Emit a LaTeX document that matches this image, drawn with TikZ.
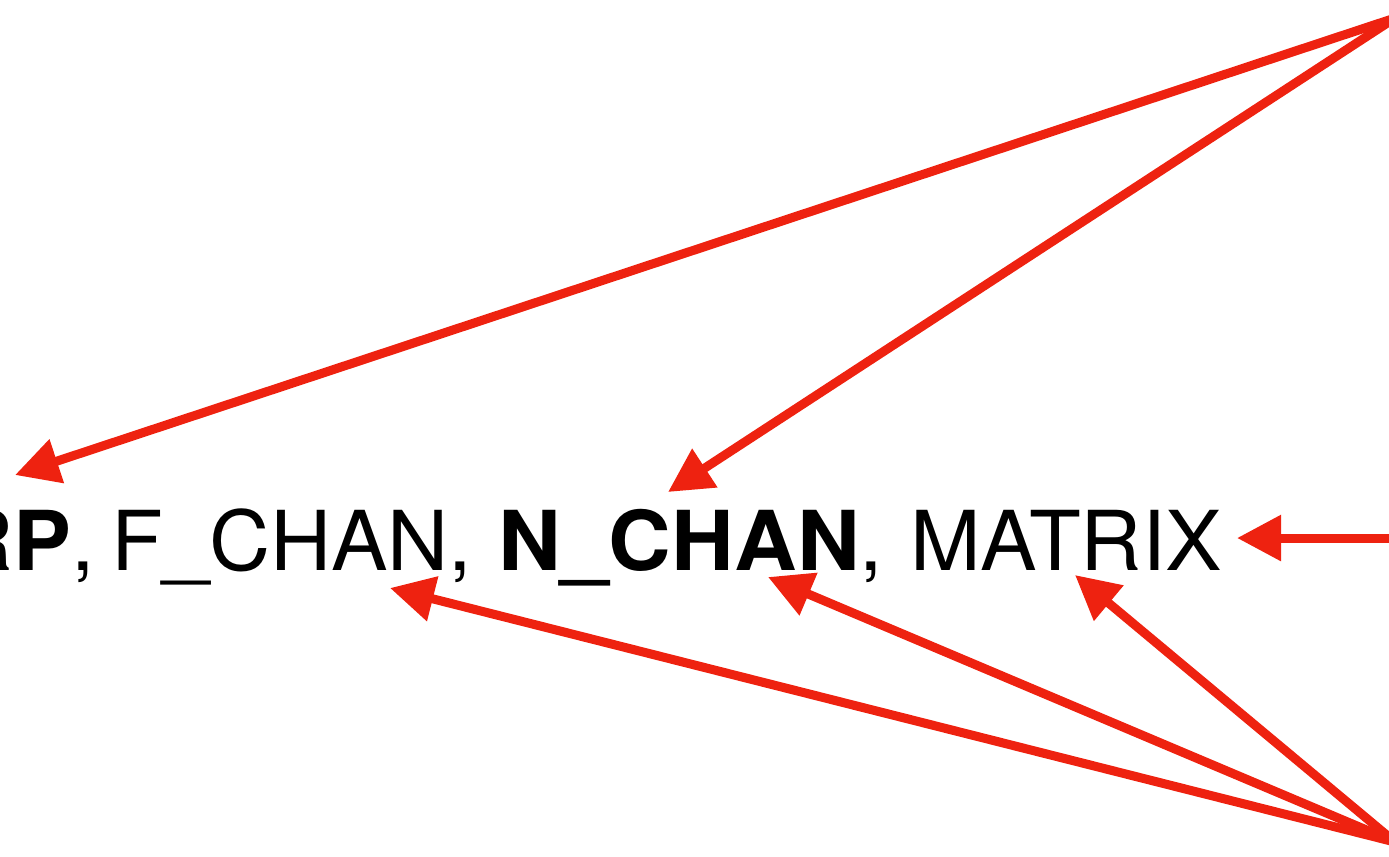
\documentclass[tikz,border=0pt]{standalone}
\usepackage{fontspec}
\setmainfont{TeX Gyre Heros}[FakeStretch=1.025, BoldFeatures={FakeStretch=1.05}]
\usepackage{xcolor}
\usetikzlibrary{arrows.meta, positioning}
\definecolor{flecha}{RGB}{238,34,16}
\tikzstyle{term} = [inner sep=0pt, outer sep=0pt, anchor=base west,
font=\fontsize{23.5}{28}\selectfont]
\tikzstyle{ptr} = [draw=flecha, line width=0.09cm,
-{Triangle[length=0.44cm, width=0.44cm]}, flecha]

\begin{document}
\begin{tikzpicture}[x=0.01cm, y=-0.01cm]
        \clip (0,0) rectangle (1389,856);

        % --- Nodos ---
        \node (rp) [term] at (-49,570) {\textbf{RP},};
        \node (fchan) [term] at (111,570) {F\_CHAN,};
        \node (nchan) [term] at (498,570) {\textbf{N\_CHAN},};
        \node (matrix) [term] at (910,570) {MATRIX};

        \coordinate (arriba) at (1395,18);
        \coordinate (medio) at (1395,538);
        \coordinate (abajo) at (1395,842);

        % --- Flechas ---
        \draw [ptr] (arriba) -- ([shift={(64,-95)}]rp.base west);
        \draw [ptr] (arriba) -- ([shift={(170,-78)}]nchan.base west);
        \draw [ptr] (medio) -- ([shift={(327,-32)}]matrix.base west);
        \draw [ptr] (abajo) -- ([shift={(279,18)}]fchan.base west);
        \draw [ptr] (abajo) -- ([shift={(270,7)}]nchan.base west);
        \draw [ptr] (abajo) -- ([shift={(165,5)}]matrix.base west);

\end{tikzpicture}
\end{document}
